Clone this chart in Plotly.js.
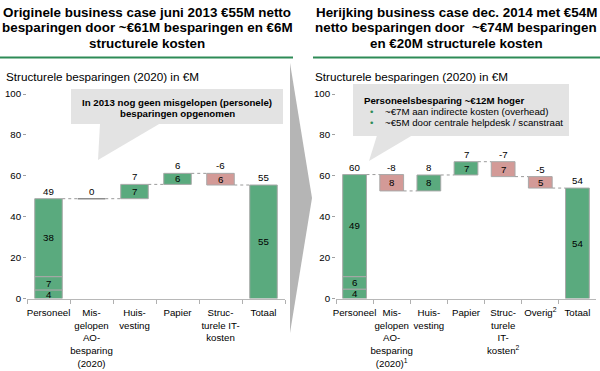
<!DOCTYPE html>
<html><head><meta charset="utf-8">
<script src="https://cdn.plot.ly/plotly-3.0.1.min.js"></script>
<style>html,body{margin:0;padding:0;background:#fff}#chart{width:600px;height:371px}</style>
</head><body><div id="chart"></div>
<script>
// ---------- DATA ----------
const catsL = ["Personeel","Mis-<br>gelopen<br>AO-<br>besparing<br>(2020)","Huis-<br>vesting","Papier","Struc-<br>turele IT-<br>kosten","Totaal"];
const personeelSegL = [4.2, 6.5, 38.1];
const personeelSegLabelsL = ["4","7","38"];
const deltasL = [0, 7.0, 5.4, -5.7];
const deltaLabelsL = ["", "7", "6", "6"];
const totalL = 55.5;
const totalLabelL = "55";
const topLabelsL = ["49","0","7","6","-6","55"];

const catsR = ["Personeel","Mis-<br>gelopen<br>AO-<br>besparing<br>(2020)<sup>1</sup>","Huis-<br>vesting","Papier","Struc-<br>turele<br>IT-<br>kosten<sup>2</sup>","Overig<sup>2</sup>","Totaal"];
const personeelSegR = [4.6, 6.1, 49.9];
const personeelSegLabelsR = ["4","6","49"];
const deltasR = [-8, 7.8, 6.5, -7.3, -5.6];
const deltaLabelsR = ["8","8","7","7","5"];
const totalR = 54.0;
const totalLabelR = "54";
const topLabelsR = ["60","-8","8","7","-7","-5","54"];

const yTicks = [0, 20, 40, 60, 80, 100];

// ---------- STYLE ----------
const GREEN = "#5aaa7e", PINK = "#d39a97", OUT = "#a8a8a8", CONN = "#9a9a9a";
const FONT = "Liberation Sans, Arial, Helvetica, sans-serif";
const FS = 9.7;
const W = 0.64;
const px = x => x / 600, py = y => 1 - y / 371;

function panel(cats, segs, segLabels, deltas, deltaLabels, total, totalLabel, topLabels, xa, ya) {
  const traces = [], shapes = [], ann = [];
  const xr = xa, yr = ya;
  const lab = (k, y, t, above) => { if (!t) return; ann.push({xref: xr, yref: yr, x: k, y: y, text: t, showarrow: false,
      yanchor: above ? "bottom" : "middle", yshift: 0, font: {family: FONT, size: FS, color: "#000"}}); };
  const conn = (k, lvl) => shapes.push({type: "line", xref: xr, yref: yr, x0: k + W / 2, x1: k + 1 - W / 2, y0: lvl, y1: lvl,
      line: {color: CONN, width: 1, dash: "dot"}});
  let base = 0; const sb = [];
  segs.forEach(v => { sb.push(base); base += v; });
  traces.push({type: "bar", x: segs.map(() => cats[0]), y: segs, base: sb, width: W, xaxis: xa, yaxis: ya,
    marker: {color: GREEN, line: {color: OUT, width: 1}}, hoverinfo: "skip"});
  segs.forEach((v, i) => lab(0, sb[i] + v / 2, segLabels[i], false));
  let level = base;
  lab(0, level, topLabels[0], true);
  const bx = [], by = [], bb = [], bc = [];
  deltas.forEach((d, i) => {
    const k = i + 1, prev = level, next = level + d;
    conn(k - 1, prev);
    if (d === 0) {
      shapes.push({type: "line", xref: xr, yref: yr, x0: k - W / 2, x1: k + W / 2, y0: prev, y1: prev, line: {color: "#8c8c8c", width: 1.5}});
    } else {
      bx.push(cats[k]); by.push(Math.abs(d)); bb.push(Math.min(prev, next)); bc.push(d > 0 ? GREEN : PINK);
      lab(k, (prev + next) / 2, deltaLabels[i], false);
    }
    lab(k, Math.max(prev, next), topLabels[k], true);
    level = next;
  });
  traces.push({type: "bar", x: bx, y: by, base: bb, width: W, xaxis: xa, yaxis: ya,
    marker: {color: bc, line: {color: OUT, width: 1}}, hoverinfo: "skip"});
  const kt = cats.length - 1;
  conn(kt - 1, level);
  traces.push({type: "bar", x: [cats[kt]], y: [total], base: [0], width: W, xaxis: xa, yaxis: ya,
    marker: {color: GREEN, line: {color: OUT, width: 1}}, hoverinfo: "skip"});
  lab(kt, total / 2, totalLabel, false);
  lab(kt, total, topLabels[kt], true);
  return {traces, shapes, ann};
}

const L = panel(catsL, personeelSegL, personeelSegLabelsL, deltasL, deltaLabelsL, totalL, totalLabelL, topLabelsL, "x", "y");
const R = panel(catsR, personeelSegR, personeelSegLabelsR, deltasR, deltaLabelsR, totalR, totalLabelR, topLabelsR, "x2", "y2");

const yDom = [py(298.5), py(94)];
const xCommon = {type: "category", categoryorder: "array", tickson: "boundaries", ticks: "outside", ticklen: 4,
  tickcolor: "#b0b0b0", showline: true, linecolor: "#b8b8b8", linewidth: 1, showgrid: false, zeroline: false,
  tickangle: 0, automargin: false, ticklabelstandoff: 5,
  tickfont: {family: FONT, size: FS, color: "#000"}, fixedrange: true};
const yCommon = {range: [0, 100], tickvals: yTicks, ticks: "outside", ticklen: 3, tickcolor: "#a0a0a0",
  showline: false, showgrid: false, zeroline: false, automargin: false, tickfont: {family: FONT, size: FS, color: "#000"}, domain: yDom};

const txt = (x, y, t, o) => Object.assign({xref: "paper", yref: "paper", x: px(x), y: py(y), text: t, showarrow: false,
  xanchor: "center", yanchor: "middle", font: {family: FONT, size: FS, color: "#000"}}, o || {});
const TF = {family: FONT, size: 13.4, color: "#000"};
const deco = [
  txt(147, 12, "<b>Originele business case juni 2013 €55M netto</b>", {font: TF}),
  txt(147, 28, "<b>besparingen door ~€61M besparingen en €6M</b>", {font: TF}),
  txt(147, 44, "<b>structurele kosten</b>", {font: TF}),
  txt(456, 12, "<b>Herijking business case dec. 2014 met €54M</b>", {font: TF}),
  txt(456, 28, "<b>netto besparingen door \u00a0~€74M besparingen</b>", {font: TF}),
  txt(456, 44, "<b>en €20M structurele kosten</b>", {font: TF}),
  txt(4, 76, "Structurele besparingen (2020) in €M", {xanchor: "left", font: {family: FONT, size: 11.7, color: "#000"}}),
  txt(313, 76, "Structurele besparingen (2020) in €M", {xanchor: "left", font: {family: FONT, size: 11.7, color: "#000"}}),
  txt(177, 102.5, "<b>In 2013 nog geen misgelopen (personele)</b>"),
  txt(177, 113.5, "<b>besparingen opgenomen</b>"),
  txt(362, 100, "<b>Personeelsbesparing ~€12M hoger</b>", {xanchor: "left"}),
  txt(372, 112, "•", {font: {family: FONT, size: FS, color: "#2e8b57"}}),
  txt(383, 112, "~€7M aan indirecte kosten (overhead)", {xanchor: "left"}),
  txt(372, 122.7, "•", {font: {family: FONT, size: FS, color: "#2e8b57"}}),
  txt(383, 122.7, "~€5M door centrale helpdesk / scanstraat", {xanchor: "left"})
];
const P = (pts) => "M" + pts.map(p => px(p[0]) + "," + py(p[1])).join(" L") + " Z";
const decoShapes = [
  {type: "line", xref: "paper", yref: "paper", x0: 0, x1: px(293), y0: py(57.5), y1: py(57.5), line: {color: "#2e8b57", width: 2}},
  {type: "line", xref: "paper", yref: "paper", x0: px(313), x1: 1, y0: py(57.5), y1: py(57.5), line: {color: "#2e8b57", width: 2}},
  {type: "path", xref: "paper", yref: "paper", path: P([[290, 63], [312, 198], [290, 333]]), fillcolor: "#b5b5b5", line: {width: 0}, layer: "below"},
  {type: "rect", xref: "paper", yref: "paper", x0: px(71), x1: px(283), y0: py(124), y1: py(89), fillcolor: "#e3e3e3", line: {width: 0}, layer: "below"},
  {type: "path", xref: "paper", yref: "paper", path: P([[100, 123.5], [160, 123.5], [98, 160]]), fillcolor: "#e3e3e3", line: {width: 0}, layer: "below"},
  {type: "rect", xref: "paper", yref: "paper", x0: px(353), x1: px(569), y0: py(136), y1: py(84), fillcolor: "#e3e3e3", line: {width: 0}, layer: "below"},
  {type: "path", xref: "paper", yref: "paper", path: P([[377, 135.5], [412, 135.5], [369, 161]]), fillcolor: "#e3e3e3", line: {width: 0}, layer: "below"}
];

const layout = {
  width: 600, height: 371, margin: {l: 0, r: 0, t: 0, b: 0}, paper_bgcolor: "#fff", plot_bgcolor: "rgba(0,0,0,0)",
  showlegend: false, barmode: "overlay", font: {family: FONT, size: FS, color: "#000"},
  xaxis: Object.assign({}, xCommon, {domain: [px(27), px(285)], anchor: "y", categoryarray: catsL, range: [-0.5, catsL.length - 0.5]}),
  yaxis: Object.assign({}, yCommon, {anchor: "x"}),
  xaxis2: Object.assign({}, xCommon, {domain: [px(336), px(596)], anchor: "y2", categoryarray: catsR, range: [-0.5, catsR.length - 0.5]}),
  yaxis2: Object.assign({}, yCommon, {anchor: "x2"}),
  shapes: decoShapes.concat(L.shapes, R.shapes),
  annotations: deco.concat(L.ann, R.ann)
};

Plotly.newPlot("chart", L.traces.concat(R.traces), layout, {staticPlot: true, displayModeBar: false});
</script></body></html>
